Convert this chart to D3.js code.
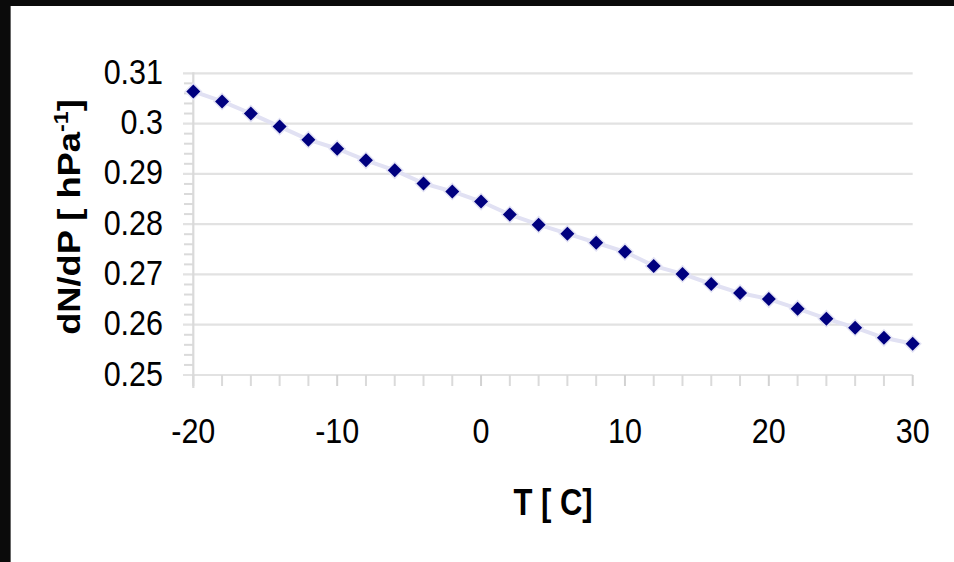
<!DOCTYPE html>
<html>
<head>
<meta charset="utf-8">
<script src="https://cdn.jsdelivr.net/npm/d3@7"></script>
<style>
html,body{margin:0;padding:0;background:#0b0b0b;}
svg{display:block;}
text{font-family:"Liberation Sans",Arial,sans-serif;fill:#000;}
</style>
</head>
<body>
<script>
// ---- data ----
const temps = [-20,-18,-16,-14,-12,-10,-8,-6,-4,-2,0,2,4,6,8,10,12,14,16,18,20,22,24,26,28,30];
const dNdP = [0.3064,0.3044,0.3020,0.2994,0.2968,0.2950,0.2927,0.2907,0.2881,0.2865,0.2845,0.2819,0.2799,0.2781,0.2763,0.2745,0.2717,0.2701,0.2681,0.2663,0.2651,0.2632,0.2612,0.2594,0.2574,0.2562];
const xTickLabels = ["-20","-10","0","10","20","30"];
const yTickLabels = ["0.25","0.26","0.27","0.28","0.29","0.3","0.31"];
const xTitle = "T [ C]";
const yTitleMain = "dN/dP [ hPa";
const yTitleSup = "-1";
const yTitleEnd = "]";

const W = 954, H = 562;
const svg = d3.select("body").append("svg").attr("width", W).attr("height", H);

// white panel inside the black frame
svg.append("rect").attr("x", 10).attr("y", 6).attr("width", W - 10).attr("height", H - 6).attr("fill", "#fff");
svg.append("line").attr("x1", 10.5).attr("x2", 10.5).attr("y1", 6).attr("y2", H).attr("stroke", "#666").attr("stroke-width", 1);

const x = d3.scaleLinear().domain([-20, 30]).range([193.3, 912.7]);
const y = d3.scaleLinear().domain([0.25, 0.31]).range([375, 73.3]);

const grid = "#e2e2e2";
const axisCol = "#dadada";

// horizontal gridlines (major ticks extend left)
const yMajors = yTickLabels.map(Number);
svg.append("g").selectAll("line").data(yMajors).join("line")
  .attr("x1", 183).attr("x2", x(30))
  .attr("y1", d => y(d)).attr("y2", d => y(d))
  .attr("stroke", grid).attr("stroke-width", 2.2);

// minor y ticks
const yMinors = d3.range(0, 31).map(i => 0.25 + i * 0.002).filter((d, i) => i % 5 !== 0);
svg.append("g").selectAll("line").data(yMinors).join("line")
  .attr("x1", 184).attr("x2", x(-20))
  .attr("y1", d => y(d)).attr("y2", d => y(d))
  .attr("stroke", axisCol).attr("stroke-width", 2);

// x ticks every 2
svg.append("g").selectAll("line").data(temps).join("line")
  .attr("x1", d => x(d)).attr("x2", d => x(d))
  .attr("y1", y(0.25)).attr("y2", 386)
  .attr("stroke", d => d % 10 === 0 ? "#d2d2d2" : axisCol).attr("stroke-width", 2);

// y axis line
svg.append("line").attr("x1", x(-20)).attr("x2", x(-20)).attr("y1", y(0.31) - 1).attr("y2", 388)
  .attr("stroke", axisCol).attr("stroke-width", 2.2);

// series line
const line = d3.line().x((d, i) => x(temps[i])).y(d => y(d));
svg.append("path").datum(dNdP).attr("d", line)
  .attr("fill", "none").attr("stroke", "#e1e1f3").attr("stroke-width", 4);

// diamond markers
const r = 7;
const diamond = `M0,${-r}L${r},0L0,${r}L${-r},0Z`;
svg.append("g").selectAll("path").data(dNdP).join("path")
  .attr("transform", (d, i) => `translate(${x(temps[i])},${y(d)})`)
  .attr("d", diamond)
  .attr("fill", "#00007f").attr("stroke", "#e3e3f5").attr("stroke-width", 3).attr("paint-order", "stroke");

// tick labels
svg.append("g").selectAll("text").data(yTickLabels).join("text")
  .attr("transform", d => `translate(163,${y(+d) + 10.5}) scale(1,1.13)`)
  .attr("text-anchor", "end").attr("font-size", 30.5).text(d => d);

svg.append("g").selectAll("text").data(xTickLabels).join("text")
  .attr("transform", d => `translate(${x(+d)},443) scale(1,1.13)`)
  .attr("text-anchor", "middle").attr("font-size", 30.5).text(d => d);

// axis titles
svg.append("text")
  .attr("transform", `translate(${(x(-20) + x(30)) / 2},515) scale(1,1.17)`)
  .attr("text-anchor", "middle").attr("font-size", 31).attr("font-weight", "bold")
  .text(xTitle);

const yt = svg.append("text")
  .attr("transform", `translate(80,217) scale(1,1.17) rotate(-90)`)
  .attr("text-anchor", "middle").attr("font-size", 31).attr("font-weight", "bold");
yt.append("tspan").text(yTitleMain);
yt.append("tspan").attr("font-size", 20).attr("dy", -12).text(yTitleSup);
yt.append("tspan").attr("dy", 12).text(yTitleEnd);
</script>
</body>
</html>
